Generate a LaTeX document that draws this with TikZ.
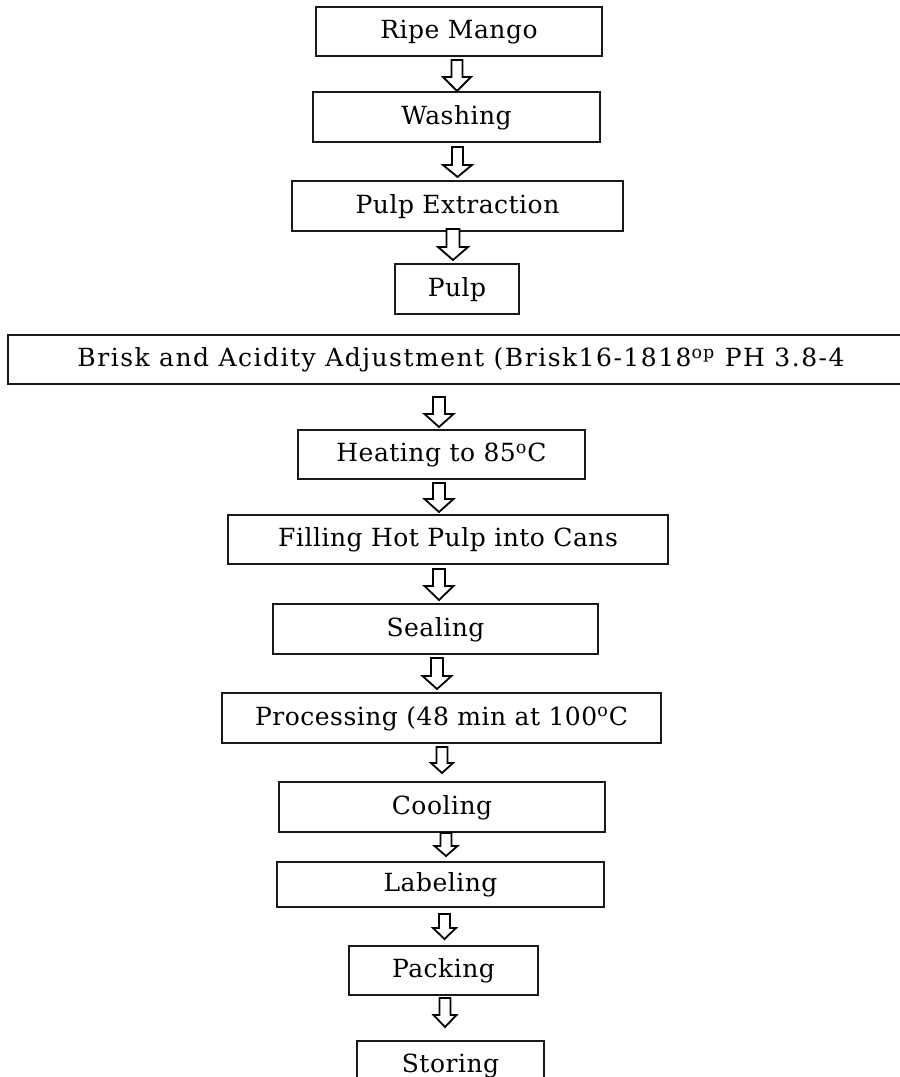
\documentclass[tikz,border=0pt]{standalone}
\usepackage{fontspec}
\setmainfont[LetterSpace=2]{DejaVu Serif}
\usetikzlibrary{calc}

\tikzset{
  stepbox/.style={draw=black!90, line width=1pt, inner sep=0pt,
    font=\fontsize{12.5}{14}\selectfont, text height=0.73em, text depth=0pt},
  widebox/.style={stepbox, font=\fontsize{12.5}{14}\selectfont\addfontfeature{LetterSpace=6}},
  arrowline/.style={draw=black, line width=0.9pt, fill=white, line join=miter}
}

% hollow block arrow between two nodes
% #1 from, #2 to, #3 centre x, #4 shaft half width, #5 head half width,
% #6 head length, #7 gap below source, #8 gap above target (all in px)
\newcommand\flowarrow[8]{%
  \draw[arrowline] let \p1=(#1.south), \p2=(#2.north) in
    ({(#3-#4)*0.5pt},{\y1-(#7)*0.5pt}) --
    ({(#3-#4)*0.5pt},{\y2+(#8+#6)*0.5pt}) --
    ({(#3-#5)*0.5pt},{\y2+(#8+#6)*0.5pt}) --
    ({(#3)*0.5pt},{\y2+(#8)*0.5pt}) --
    ({(#3+#5)*0.5pt},{\y2+(#8+#6)*0.5pt}) --
    ({(#3+#4)*0.5pt},{\y2+(#8+#6)*0.5pt}) --
    ({(#3+#4)*0.5pt},{\y1-(#7)*0.5pt}) -- cycle;}

\begin{document}
\begin{tikzpicture}[x=0.5pt,y=-0.5pt]
\useasboundingbox (0,0) rectangle (900,1077);
\clip (0,0) rectangle (900,1077);

\node[stepbox, minimum width=143pt,   minimum height=24.5pt] (ripe)  at (459,31.5)   {Ripe Mango};
\node[stepbox, minimum width=143.5pt, minimum height=25pt]   (wash)  at (456.5,117)  {Washing};
\node[stepbox, minimum width=165.5pt, minimum height=25pt]   (pext)  at (457.5,206)  {Pulp Extraction};
\node[stepbox, minimum width=62pt,    minimum height=25pt]   (pulp)  at (457,289)    {Pulp};
\node[widebox, minimum width=453pt,   minimum height=24.5pt] (brisk) at (461,359.5)  {Brisk and Acidity Adjustment (Brisk16-1818\textsuperscript{op} PH 3.8-4};
\node[stepbox, minimum width=143.5pt, minimum height=24.5pt] (heat)  at (441.5,454.5) {Heating to 85\textsuperscript{o}C};
\node[stepbox, minimum width=220pt,   minimum height=24.5pt] (fill)  at (448,539.5)  {Filling Hot Pulp into Cans};
\node[stepbox, minimum width=162.5pt, minimum height=25pt]   (seal)  at (435.5,629)  {Sealing};
\node[stepbox, minimum width=219.5pt, minimum height=25pt]   (proc)  at (441.5,718)  {Processing (48 min at 100\textsuperscript{o}C};
\node[stepbox, minimum width=163pt,   minimum height=25pt]   (cool)  at (442,807)    {Cooling};
\node[stepbox, minimum width=163.5pt, minimum height=22.5pt] (label) at (440.5,884.5) {Labeling};
\node[stepbox, minimum width=94.5pt,  minimum height=24.5pt] (pack)  at (443.5,970.5) {Packing};
\node[stepbox, minimum width=93.5pt,  minimum height=24pt]   (store) at (450.5,1065) {Storing};

\flowarrow{ripe}{wash}{457}{5.5}{14}{14}{3}{0}
\flowarrow{wash}{pext}{457.5}{5.5}{14.5}{12}{4}{3}
\flowarrow{pext}{pulp}{453}{6.5}{15}{13}{-3}{3}
\flowarrow{brisk}{heat}{439}{6}{14.5}{13}{12}{2}
\flowarrow{heat}{fill}{439}{6}{14.5}{13}{3}{2}
\flowarrow{fill}{seal}{439}{6}{14.5}{14}{4}{3}
\flowarrow{seal}{proc}{437}{6}{14.5}{13}{3}{3}
\flowarrow{proc}{cool}{442}{5.5}{11}{10}{3}{8}
\flowarrow{cool}{label}{446}{5.5}{11.5}{10}{0}{5}
\flowarrow{label}{pack}{444.5}{5.5}{11.5}{11}{6}{6}
\flowarrow{pack}{store}{445}{5.5}{11.5}{12}{2}{13}
\end{tikzpicture}
\end{document}
